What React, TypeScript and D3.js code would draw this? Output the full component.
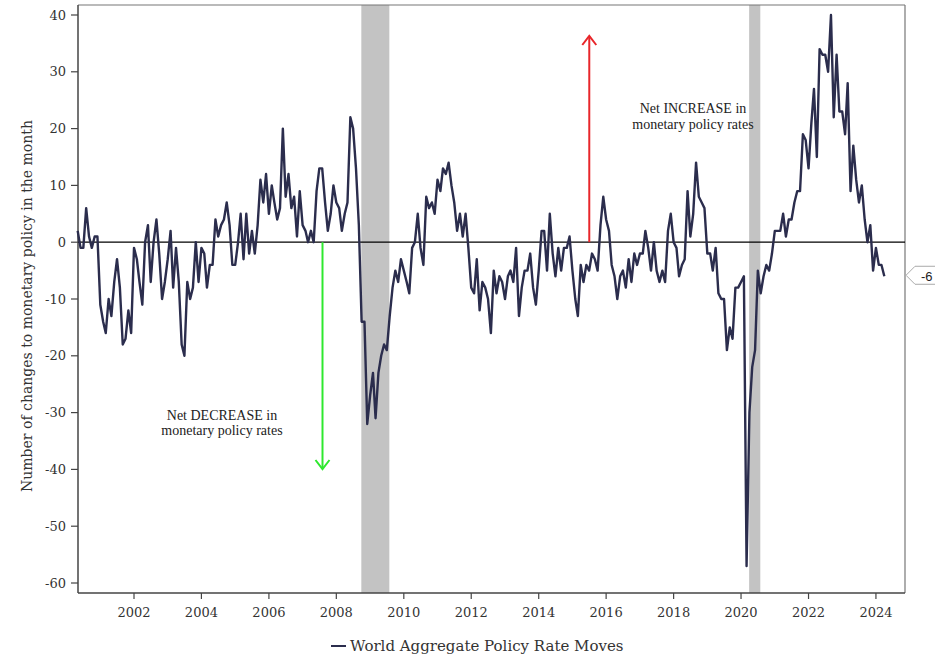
import React from "react";
import * as d3 from "d3";

// Monthly values, starting May 2000
const y2000 = [2, -1, -1, 6, 1, -1, 1, 1];
const y2001 = [-11, -14, -16, -10, -13, -7, -3, -8, -18, -17, -12, -16];
const y2002 = [-1, -3, -7, -11, 0, 3, -7, 0, 4, -2, -10, -7];
const y2003 = [-3, 2, -8, -1, -7, -18, -20, -7, -10, -8, 0, -7];
const y2004 = [-1, -2, -8, -4, -4, 4, 1, 3, 4, 7, 3, -4];
const y2005 = [-4, 0, 5, -3, 5, -2, 2, -2, 3, 11, 7, 12];
const y2006 = [5, 10, 7, 4, 6, 20, 8, 12, 6, 8, 1, 9];
const y2007 = [3, 2, 0, 2, 0, 9, 13, 13, 7, 2, 5, 10];
const y2008 = [7, 6, 2, 5, 7, 22, 20, 13, 3, -14, -14, -32];
const y2009 = [-27, -23, -31, -23, -20, -18, -19, -13, -8, -5, -7, -3];
const y2010 = [-5, -7, -9, -1, 0, 5, -1, -4, 8, 6, 7, 5];
const y2011 = [11, 9, 13, 12, 14, 10, 7, 2, 5, 1, 5, -1];
const y2012 = [-8, -9, -3, -12, -7, -8, -10, -16, -5, -9, -6, -7];
const y2013 = [-10, -6, -5, -7, -1, -13, -8, -5, -5, -2, -8, -11];
const y2014 = [-5, 2, 2, -5, 5, -2, -6, -1, -5, -1, -1, 1];
const y2015 = [-5, -10, -13, -4, -7, -4, -5, -2, -3, -5, 3, 8];
const y2016 = [4, 2, -4, -6, -10, -6, -5, -8, -3, -7, -2, -4];
const y2017 = [-2, -2, 2, -1, -5, 0, -5, -7, -5, -7, 2, 5];
const y2018 = [0, -1, -6, -4, -3, 9, 1, 5, 14, 8, 7, 6];
const y2019 = [-2, -2, -5, -1, -9, -10, -10, -19, -15, -17, -8, -8];
const y2020 = [-7, -6, -57, -30, -22, -19, -5, -9, -6, -4, -5, -2];
const y2021 = [2, 2, 2, 5, 1, 4, 4, 7, 9, 9, 19, 18];
const y2022 = [13, 21, 27, 15, 34, 33, 33, 30, 40, 22, 33, 23];
const y2023 = [23, 19, 28, 9, 17, 11, 7, 10, 4, 0, 3, -5];
const y2024 = [-1, -4, -4, -6];

const allValues = [
  ...y2000, ...y2001, ...y2002, ...y2003, ...y2004, ...y2005, ...y2006,
  ...y2007, ...y2008, ...y2009, ...y2010, ...y2011, ...y2012, ...y2013,
  ...y2014, ...y2015, ...y2016, ...y2017, ...y2018, ...y2019, ...y2020,
  ...y2021, ...y2022, ...y2023, ...y2024,
];

const yTicks = [40, 30, 20, 10, 0, -10, -20, -30, -40, -50, -60];
const xTickYears = [2002, 2004, 2006, 2008, 2010, 2012, 2014, 2016, 2018, 2020, 2022, 2024];
const shadedPeriods = [
  { start: 2008.74, end: 2009.57 },
  { start: 2020.24, end: 2020.57 },
];
const lastValue = -6;

const W = 935;
const H = 658;
const L = 78, R = 905, T = 5, B = 593;

function decYearToDate(y: number) {
  const yr = Math.floor(y);
  const frac = y - yr;
  const s = new Date(yr, 0, 1).getTime();
  const e = new Date(yr + 1, 0, 1).getTime();
  return new Date(s + frac * (e - s));
}

export default function App() {
  const x = d3.scaleTime()
    .domain([decYearToDate(2000.34), decYearToDate(2024.86)])
    .range([L, R]);
  const y = d3.scaleLinear().domain([-61.76, 41.76]).range([B, T]);

  const data = allValues.map((v, i) => ({ date: new Date(2000, 4 + i, 1), v }));
  const line = d3.line<{ date: Date; v: number }>()
    .x((d) => x(d.date))
    .y((d) => y(d.v));

  const serif = "'DejaVu Serif', serif";
  const times = "'Liberation Serif', serif";

  const greenX = x(decYearToDate(2007.59));
  const redX = x(decYearToDate(2015.5));

  return (
    <svg width={W} height={H} style={{ position: "absolute", left: 0, top: 0, background: "#fff" }}>
      <rect x={0} y={0} width={W} height={H} fill="#fff" />
      {shadedPeriods.map((p, i) => (
        <rect key={i} x={x(decYearToDate(p.start))} y={T}
          width={x(decYearToDate(p.end)) - x(decYearToDate(p.start))}
          height={B - T} fill="#c3c3c3" />
      ))}
      {/* frame */}
      <line x1={L} y1={T} x2={R} y2={T} stroke="#777" strokeWidth={1.2} />
      <line x1={R} y1={T} x2={R} y2={B} stroke="#777" strokeWidth={1.2} />
      <line x1={L} y1={T} x2={L} y2={B} stroke="#444" strokeWidth={1.5} />
      <line x1={L} y1={B} x2={R} y2={B} stroke="#444" strokeWidth={1.5} />
      {/* zero line */}
      <line x1={L} y1={y(0)} x2={R} y2={y(0)} stroke="#000" strokeWidth={1.2} />
      {/* y ticks */}
      {yTicks.map((t) => (
        <g key={t}>
          <line x1={L - 7} x2={L} y1={y(t)} y2={y(t)} stroke="#444" strokeWidth={1.2} />
          <text x={L - 12} y={y(t)} dy="0.35em" textAnchor="end" fontFamily={serif}
            fontSize={13} fill="#333">{t}</text>
        </g>
      ))}
      {/* x ticks */}
      {xTickYears.map((yr) => {
        const xx = x(new Date(yr, 0, 1));
        return (
          <g key={yr}>
            <line x1={xx} x2={xx} y1={B} y2={B + 6} stroke="#444" strokeWidth={1.2} />
            <text x={xx} y={B + 24} textAnchor="middle" fontFamily={serif}
              fontSize={13} fill="#333">{d3.timeFormat("%Y")(new Date(yr, 0, 1))}</text>
          </g>
        );
      })}
      {/* arrows */}
      <g stroke="#2ee82e" strokeWidth={2} fill="none">
        <line x1={greenX} x2={greenX} y1={y(0)} y2={469} />
        <polyline points={`${greenX - 7},${460} ${greenX},${469} ${greenX + 7},${460}`} />
      </g>
      <g stroke="#e8262a" strokeWidth={2} fill="none">
        <line x1={redX} x2={redX} y1={y(0)} y2={36} />
        <polyline points={`${redX - 7},${45} ${redX},${36} ${redX + 7},${45}`} />
      </g>
      {/* series */}
      <path d={line(data) || ""} fill="none" stroke="#2b2d4d" strokeWidth={2.4}
        strokeLinejoin="round" />
      {/* annotations */}
      <text x={222} y={420} fontFamily={times} fontSize={14} fill="#222" textAnchor="middle">
        Net DECREASE in
      </text>
      <text x={222} y={435} fontFamily={times} fontSize={14} fill="#222" textAnchor="middle">
        monetary policy rates
      </text>
      <text x={693} y={113} fontFamily={times} fontSize={14} fill="#222" textAnchor="middle">
        Net INCREASE in
      </text>
      <text x={693} y={129} fontFamily={times} fontSize={14} fill="#222" textAnchor="middle">
        monetary policy rates
      </text>
      {/* last value callout */}
      <polygon points={`${R + 1},${y(lastValue) - 1} ${R + 10},${y(lastValue) - 10} ${W + 2},${y(lastValue) - 10} ${W + 2},${y(lastValue) + 8} ${R + 10},${y(lastValue) + 8}`}
        fill="#fff" stroke="#aaa" strokeWidth={1} />
      <text x={921} y={y(lastValue)} dy="0.35em" fontFamily="'Liberation Sans', sans-serif"
        fontSize={13} fill="#222">{lastValue}</text>
      {/* y title */}
      <text transform={`translate(32,306) rotate(-90)`} textAnchor="middle"
        fontFamily={serif} fontSize={14} fill="#333">
        Number of changes to monetary policy in the month
      </text>
      {/* legend */}
      <line x1={331} x2={346} y1={646} y2={646} stroke="#2b2d4d" strokeWidth={2} />
      <text x={350} y={651} fontFamily={serif} fontSize={15} fill="#333">
        World Aggregate Policy Rate Moves
      </text>
    </svg>
  );
}
